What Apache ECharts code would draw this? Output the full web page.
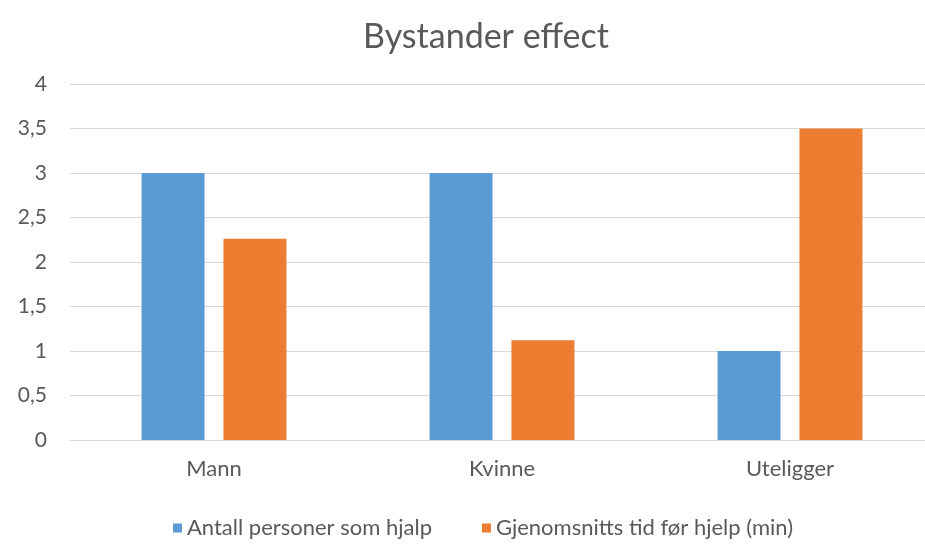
<!DOCTYPE html>
<html>
<head>
<meta charset="utf-8">
<script src="https://cdn.jsdelivr.net/npm/echarts@6/dist/echarts.min.js"></script>
<style>
  html, body { margin: 0; padding: 0; background: #fff; overflow: hidden; }
  /* the source chart is cropped on the right, so the canvas is a bit wider than the window */
  #chart { width: 940px; height: 556px; }
</style>
</head>
<body>
<div id="chart"></div>
<script>
var categories = ['Mann', 'Kvinne', 'Uteligger'];
var antallPersoner = [3, 3, 1];
var gjennomsnittTid = [2.26, 1.12, 3.5];
var seriesNames = ['Antall personer som hjalp', 'Gjenomsnitts tid før hjelp (min)'];

var fontName = 'Lato';
var textColor = '#595959';

var myChart = echarts.init(document.getElementById('chart'));
var option = {
    backgroundColor: '#fff',
    animation: false,
    title: {
        text: 'Bystander effect',
        left: 481,
        top: 15,
        textAlign: 'center',
        textStyle: {
            color: textColor,
            fontWeight: 'normal',
            fontFamily: fontName,
            fontSize: 34
        }
    },
    legend: {
        left: 168,
        top: 512,
        itemWidth: 9,
        itemHeight: 9,
        itemGap: 50,
        icon: 'rect',
        data: seriesNames,
        textStyle: {
            color: textColor,
            fontFamily: fontName,
            fontSize: 22
        }
    },
    grid: {
        left: 70,
        top: 84,
        width: 864,
        height: 356
    },
    xAxis: {
        type: 'category',
        data: categories,
        axisLine: { lineStyle: { color: '#d9d9d9' } },
        axisTick: { show: false },
        axisLabel: {
            color: textColor,
            fontFamily: fontName,
            fontSize: 22,
            margin: 18
        }
    },
    yAxis: {
        type: 'value',
        min: 0,
        max: 4,
        interval: 0.5,
        axisLine: { show: false },
        axisTick: { show: false },
        splitLine: { lineStyle: { color: '#d9d9d9' } },
        axisLabel: {
            color: textColor,
            fontFamily: fontName,
            fontSize: 21,
            margin: 23,
            formatter: function (v) { return String(v).replace('.', ','); }
        }
    },
    series: [{
        name: seriesNames[0],
        type: 'bar',
        data: antallPersoner,
        barWidth: 63,
        barGap: '30%',
        itemStyle: { color: '#5b9bd5' }
    }, {
        name: seriesNames[1],
        type: 'bar',
        data: gjennomsnittTid,
        barWidth: 63,
        itemStyle: { color: '#ed7d31' }
    }]
};
myChart.setOption(option);
</script>
</body>
</html>
